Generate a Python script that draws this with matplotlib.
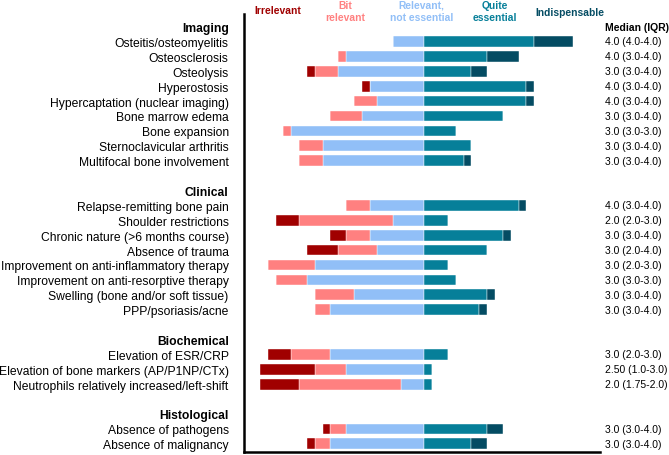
import numpy as np
import matplotlib
matplotlib.use("Agg")
import matplotlib.pyplot as plt
from matplotlib.transforms import blended_transform_factory

plt.rcParams['font.family'] = ['Liberation Sans', 'DejaVu Sans']

# rows (None = blank spacer row), headers are bold
rows = ["Imaging",
        "Osteitis/osteomyelitis", "Osteosclerosis", "Osteolysis", "Hyperostosis",
        "Hypercaptation (nuclear imaging)", "Bone marrow edema", "Bone expansion",
        "Sternoclavicular arthritis", "Multifocal bone involvement",
        None,
        "Clinical",
        "Relapse-remitting bone pain", "Shoulder restrictions",
        "Chronic nature (>6 months course)", "Absence of trauma",
        "Improvement on anti-inflammatory therapy",
        "Improvement on anti-resorptive therapy",
        "Swelling (bone and/or soft tissue)", "PPP/psoriasis/acne",
        None,
        "Biochemical",
        "Elevation of ESR/CRP", "Elevation of bone markers (AP/P1NP/CTx)",
        "Neutrophils relatively increased/left-shift",
        None,
        "Histological",
        "Absence of pathogens", "Absence of malignancy"]
headers = ["Imaging", "Clinical", "Biochemical", "Histological"]

# counts per answer (None for header/blank rows)
irrelevant    = [None, 0, 0, 1, 1, 0, 0, 0, 0, 0, None, None, 0, 3, 2, 4, 0, 0, 0, 0, None, None, 3, 7, 5, None, None, 1, 1]
bit_relevant  = [None, 0, 1, 3, 0, 3, 4, 1, 3, 3, None, None, 3, 12, 3, 5, 6, 4, 5, 2, None, None, 5, 4, 13, None, None, 2, 2]
relevant      = [None, 4, 10, 11, 7, 6, 8, 17, 13, 13, None, None, 7, 4, 7, 6, 14, 15, 9, 12, None, None, 12, 10, 3, None, None, 10, 12]
quite_ess     = [None, 14, 8, 6, 13, 13, 10, 4, 6, 5, None, None, 12, 3, 10, 8, 3, 4, 8, 7, None, None, 3, 1, 1, None, None, 8, 6]
indispensable = [None, 5, 4, 2, 1, 1, 0, 0, 0, 1, None, None, 1, 0, 1, 0, 0, 0, 1, 1, None, None, 0, 0, 0, None, None, 2, 2]

medians = ["Median (IQR)",
           "4.0 (4.0-4.0)", "4.0 (3.0-4.0)", "3.0 (3.0-4.0)", "4.0 (3.0-4.0)",
           "4.0 (3.0-4.0)", "3.0 (3.0-4.0)", "3.0 (3.0-3.0)", "3.0 (3.0-4.0)",
           "3.0 (3.0-4.0)", "", "",
           "4.0 (3.0-4.0)", "2.0 (2.0-3.0)", "3.0 (3.0-4.0)", "3.0 (2.0-4.0)",
           "3.0 (2.0-3.0)", "3.0 (3.0-3.0)", "3.0 (3.0-4.0)", "3.0 (3.0-4.0)",
           "", "",
           "3.0 (2.0-3.0)", "2.50 (1.0-3.0)", "2.0 (1.75-2.0)",
           "", "",
           "3.0 (3.0-4.0)", "3.0 (3.0-4.0)"]

cat_names = ["Irrelevant", "Bit\nrelevant", "Relevant,\nnot essential", "Quite\nessential", "Indispensable"]
colors = ["#A00000", "#FF8080", "#91BFF7", "#067F99", "#044C63"]

fig = plt.figure(figsize=(6.69, 4.56), dpi=100)
ax = fig.add_axes([0.3647, 0.006, 0.5322, 0.961])

idx = [i for i, r in enumerate(rows) if r is not None and r not in headers]
y = np.array(idx)
irr = np.array([irrelevant[i] for i in idx])
bit = np.array([bit_relevant[i] for i in idx])
rel = np.array([relevant[i] for i in idx])
qe = np.array([quite_ess[i] for i in idx])
ind = np.array([indispensable[i] for i in idx])

h = 0.72
kw = dict(height=h, edgecolor="white", linewidth=0.3)
# negative side: relevant next to zero, then bit relevant, then irrelevant
ax.barh(y, -rel, left=0, color=colors[2], **kw)
ax.barh(y, -bit, left=-rel, color=colors[1], **kw)
ax.barh(y, -irr, left=-rel - bit, color=colors[0], **kw)
ax.barh(y, qe, left=0, color=colors[3], **kw)
ax.barh(y, ind, left=qe, color=colors[4], **kw)

ax.set_xlim(-23.03, 22.4)
ax.set_ylim(28.57, -0.84)
ax.set_xticks([])

lab_idx = [i for i, r in enumerate(rows) if r is not None]
ax.set_yticks(lab_idx)
ax.set_yticklabels([rows[i] for i in lab_idx], fontsize=8.7)
for t in ax.get_yticklabels():
    if t.get_text() in headers:
        t.set_fontweight("bold")
ax.tick_params(axis="y", length=0, pad=11)

for s in ["top", "right"]:
    ax.spines[s].set_visible(False)
for s in ["left", "bottom"]:
    ax.spines[s].set_linewidth(1.8)

# median column
tr = blended_transform_factory(ax.transAxes, ax.transData)
for i, m in enumerate(medians):
    if m:
        ax.text(1.014, i, m, transform=tr, va="center", ha="left", fontsize=7.5,
                fontweight="bold" if i == 0 else "normal")

# category labels on top
lab_x = [-18.7, -10.1, -0.4, 9.0, 18.6]
lab_y = [-1.1, -1.07, -1.07, -1.07, -0.97]
for xx, yy, name, c in zip(lab_x, lab_y, cat_names, colors):
    ax.text(xx, yy, name, color=c, fontsize=7.4, fontweight="bold",
            ha="center", va="center", linespacing=1.25, clip_on=False)

fig.savefig("out.png", dpi=100)
